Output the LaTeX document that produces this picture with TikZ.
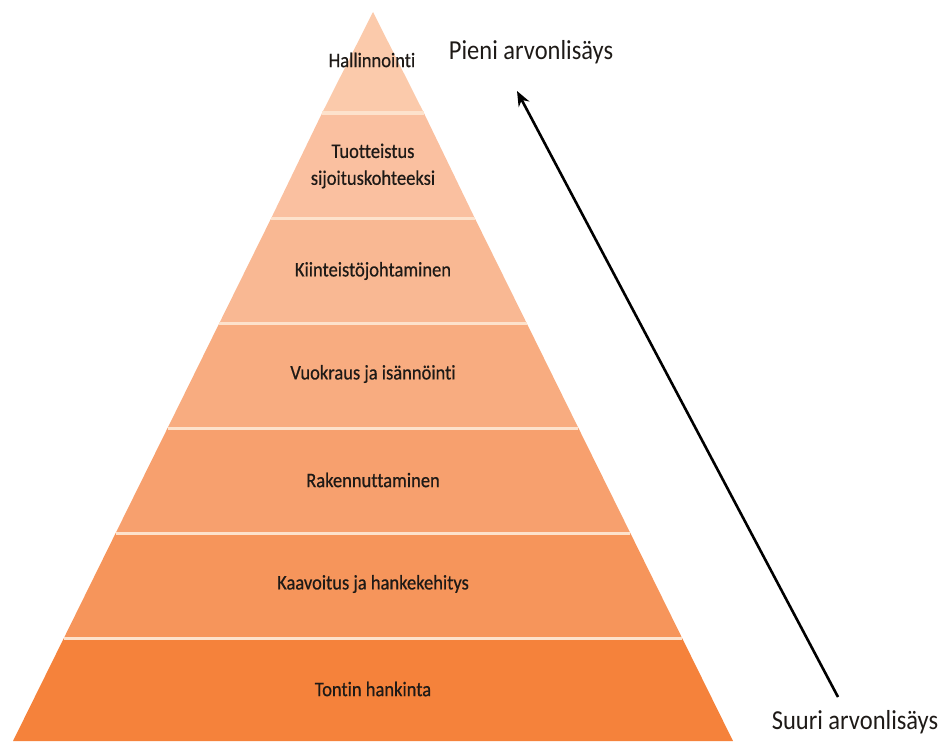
\documentclass[tikz,border=0pt]{standalone}
\usepackage{fontspec}
\setmainfont{Carlito}[Ligatures=NoCommon]
\newfontfamily\labelfont{Carlito}[Ligatures=NoCommon, FakeBold=0.6]
\usetikzlibrary{arrows.meta}

\definecolor{layA}{HTML}{FBCAAB}
\definecolor{layB}{HTML}{FAC0A0}
\definecolor{layC}{HTML}{F9B893}
\definecolor{layD}{HTML}{F8AC80}
\definecolor{layE}{HTML}{F7A06E}
\definecolor{layF}{HTML}{F6955B}
\definecolor{layG}{HTML}{F5823B}
\definecolor{sepline}{HTML}{FDE2CC}
\definecolor{labeltext}{HTML}{1E1A17}

% slightly taller lettering
\newcommand{\tallertext}[1]{\scalebox{1}[1.12]{#1}}

\tikzset{
  layerlabel/.style={text=labeltext, font=\labelfont\fontsize{18.5}{24}\selectfont, inner sep=0pt},
  sidelabel/.style={text=labeltext, font=\fontsize{24.5}{28}\selectfont, inner sep=0pt},
  separator/.style={draw=sepline, line width=3pt},
  valuearrow/.style={draw=black, line width=2.6pt, -{Stealth[length=15pt,width=12pt]}}
}

\begin{document}
\begin{tikzpicture}[x=1pt,y=-1pt]
  \useasboundingbox (0,0) rectangle (941,741);

  % pyramid layers, apex at (373,12), base from 13 to 733
  \fill[layA] (373,12) -- (423.9,113) -- (322.1,113) -- cycle;
  \fill[layB] (322.1,113) -- (423.9,113) -- (474.7,218) -- (271.3,218) -- cycle;
  \fill[layC] (271.3,218) -- (474.7,218) -- (526.6,323) -- (219.4,323) -- cycle;
  \fill[layD] (219.4,323) -- (526.6,323) -- (578.4,428) -- (167.6,428) -- cycle;
  \fill[layE] (167.6,428) -- (578.4,428) -- (630.3,533) -- (115.7,533) -- cycle;
  \fill[layF] (115.7,533) -- (630.3,533) -- (682.1,638) -- (63.9,638) -- cycle;
  \fill[layG] (63.9,638) -- (682.1,638) -- (733,741) -- (13,741) -- cycle;

  % light rules between the layers
  \draw[separator] (322.1,113) -- (423.9,113);
  \draw[separator] (271.3,218) -- (474.7,218);
  \draw[separator] (219.4,323) -- (526.6,323);
  \draw[separator] (167.6,428) -- (578.4,428);
  \draw[separator] (115.7,533) -- (630.3,533);
  \draw[separator] (63.9,638) -- (682.1,638);

  % layer names
  \node[layerlabel] (hallinnointi) at (372,60) {\tallertext{Hallinnointi}};
  \node[layerlabel] (tuotteistus) at (373,166)
    {\tallertext{\begin{tabular}{@{}c@{}}Tuotteistus\\sijoituskohteeksi\end{tabular}}};
  \node[layerlabel] (kiinteisto) at (373,271) {\tallertext{Kiinteistöjohtaminen}};
  \node[layerlabel] (vuokraus) at (373,374) {\tallertext{Vuokraus ja isännöinti}};
  \node[layerlabel] (rakennuttaminen) at (373,480) {\tallertext{Rakennuttaminen}};
  \node[layerlabel] (kaavoitus) at (373,584) {\tallertext{Kaavoitus ja hankekehitys}};
  \node[layerlabel] (tontti) at (373,689) {\tallertext{Tontin hankinta}};

  % value-added scale
  \node[sidelabel] (pieni) at (531,52) {\tallertext{Pieni arvonlisäys}};
  \node[sidelabel] (suuri) at (855,722) {\tallertext{Suuri arvonlisäys}};
  \coordinate (arrowfoot) at (838,697);
  \coordinate (arrowtip) at (517,91);
  \draw[valuearrow] (arrowfoot) -- (arrowtip);
\end{tikzpicture}
\end{document}
